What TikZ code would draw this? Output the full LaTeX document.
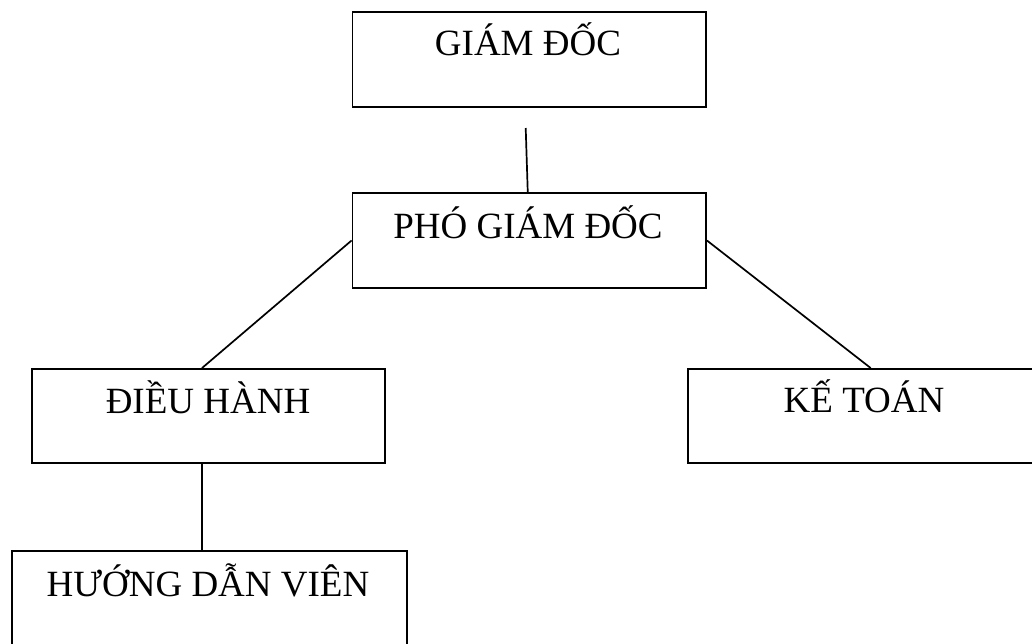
\documentclass[tikz,border=0pt]{standalone}
\usepackage{fontspec}
\setmainfont{Liberation Serif}
\begin{document}
\begin{tikzpicture}[x=1pt,y=1pt,
  orgbox/.style={draw,line width=1.9pt,rectangle,inner sep=0pt},
  lbl/.style={anchor=base,inner sep=0pt,font=\fontsize{37}{40}\selectfont},
  conn/.style={line width=1.7pt}]
\useasboundingbox (0,0) rectangle (1032,-643);
\clip (0,0) rectangle (1032,-643);
% boxes (corner coordinates in pixels)
\node[orgbox,minimum width=353.5pt,minimum height=95pt] (gd) at (529.25,-59.5) {};
\node[orgbox,minimum width=353.5pt,minimum height=95pt] (pgd) at (529.25,-240.5) {};
\node[orgbox,minimum width=353pt,minimum height=94pt] (dh) at (208.5,-416) {};
\node[orgbox,minimum width=360pt,minimum height=94pt] (kt) at (868,-416) {};
\node[orgbox,minimum width=395pt,minimum height=110pt] (hdv) at (209.5,-606) {};
% labels
\node[lbl] (tgd) at (528,-55) {GIÁM ĐỐC};
\node[lbl] (tpgd) at (528,-238) {PHÓ GIÁM ĐỐC};
\node[lbl] (tdh) at (208,-413) {ĐIỀU HÀNH};
\node[lbl] (tkt) at (864,-412) {KẾ TOÁN};
\node[lbl] (thdv) at (208,-596) {HƯỚNG DẪN VIÊN};
% connectors
\coordinate (gdlow) at (525.7,-128);
\draw[conn] (gdlow) -- ([xshift=-1.5pt]pgd.north);
\draw[conn] (pgd.west) -- ([xshift=-6.5pt]dh.north);
\draw[conn] (pgd.east) -- ([xshift=2.7pt]kt.north);
\draw[conn] ([xshift=-6.5pt]dh.south) -- ([xshift=-7.5pt]hdv.north);
\end{tikzpicture}
\end{document}
